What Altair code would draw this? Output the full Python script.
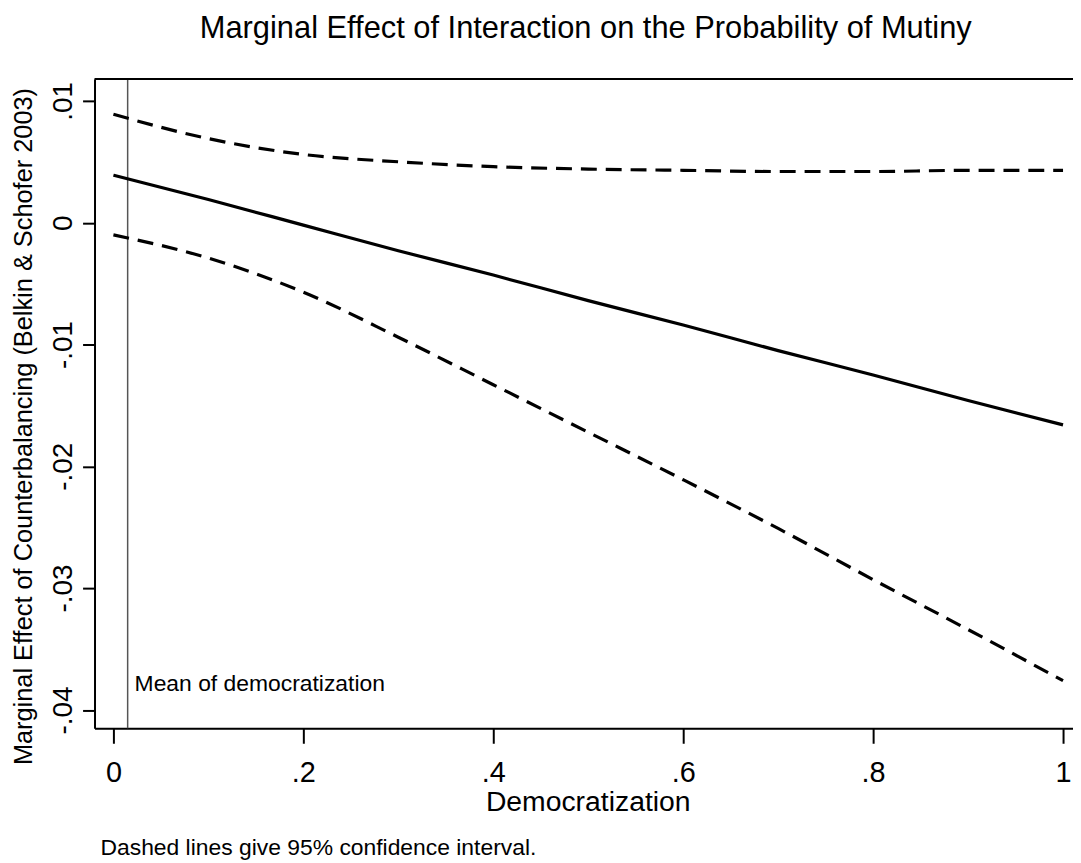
import altair as alt
import pandas as pd

# Values
democratization = [0.0, 0.1, 0.2, 0.3, 0.4, 0.5, 0.6, 0.7, 0.8, 0.9, 1.0]
marginal_effect = [0.0039, 0.0019, -0.0002, -0.0023, -0.0043, -0.0064,
                   -0.0084, -0.0105, -0.0125, -0.0146, -0.0166]
upper_ci = [0.0089, 0.0069, 0.0056, 0.0050, 0.0046, 0.0044,
            0.0043, 0.0042, 0.0042, 0.0043, 0.0043]
lower_ci = [-0.0010, -0.0029, -0.0057, -0.0094, -0.0133, -0.0172,
            -0.0211, -0.0251, -0.0293, -0.0334, -0.0376]
mean_democratization = [0.015]

x_ticks = [0, 0.2, 0.4, 0.6, 0.8, 1]
y_ticks = [-0.04, -0.03, -0.02, -0.01, 0, 0.01]

chart_title = "Marginal Effect of Interaction on the Probability of Mutiny"
footnote_text = "Dashed lines give 95% confidence interval."

W, H = 984, 653
FONT = "Liberation Sans"

df = pd.DataFrame({
    "Democratization": democratization,
    "effect": marginal_effect,
    "upper": upper_ci,
    "lower": lower_ci,
})
mean_df = pd.DataFrame({"mean": mean_democratization,
                        "label": ["Mean of democratization"]})

x_scale = alt.Scale(domain=[-0.0199, 1.0105], nice=False, zero=False)
y_scale = alt.Scale(domain=[-0.04151, 0.011796], nice=False, zero=False)

x_axis = alt.Axis(
    values=x_ticks,
    labelExpr="replace(format(datum.value, '~g'), '0.', '.')",
    title="Democratization",
    titleFontSize=28.5, titleFont=FONT, titleFontWeight="normal", titleColor="black",
    titleBaseline="alphabetic", titleY=83, titleX=496, titleAlign="center",
    labelFontSize=29, labelFont=FONT, labelColor="black",
    labelBaseline="alphabetic", labelPadding=38, labelFlush=False,
    tickSize=15, tickWidth=2, tickColor="black",
    domainWidth=2, domainColor="black", grid=False,
)
y_axis = alt.Axis(
    values=y_ticks,
    labelExpr="replace(replace(format(datum.value, '.2~f'), '0.', '.'), '\u2212', '-')",
    title="Marginal Effect of Counterbalancing (Belkin & Schofer 2003)",
    titleFontSize=25.5, titleFont=FONT, titleFontWeight="normal", titleColor="black",
    titleAngle=270, titleBaseline="alphabetic", titleAlign="center",
    titleX=-63, titleY=349,
    labelFontSize=28, labelFont=FONT, labelColor="black",
    labelAngle=270, labelAlign="center", labelBaseline="alphabetic",
    labelPadding=11, labelFlush=False,
    tickSize=12, tickWidth=2, tickColor="black",
    domainWidth=2, domainColor="black", grid=False,
)

base = alt.Chart(df)

main_line = base.mark_line(color="black", strokeWidth=3.2, interpolate="monotone").encode(
    x=alt.X("Democratization:Q", scale=x_scale, axis=x_axis),
    y=alt.Y("effect:Q", scale=y_scale, axis=y_axis),
)
upper_line = base.mark_line(color="black", strokeWidth=3.2, strokeDash=[16, 9],
                            interpolate="monotone").encode(
    x=alt.X("Democratization:Q", scale=x_scale),
    y=alt.Y("upper:Q", scale=y_scale),
)
lower_line = base.mark_line(color="black", strokeWidth=3.2, strokeDash=[16, 9],
                            interpolate="monotone").encode(
    x=alt.X("Democratization:Q", scale=x_scale),
    y=alt.Y("lower:Q", scale=y_scale),
)

mean_rule = alt.Chart(mean_df).mark_rule(color="#555555", strokeWidth=1.5).encode(
    x=alt.X("mean:Q", scale=x_scale),
)
mean_text = alt.Chart(mean_df).mark_text(
    align="left", baseline="alphabetic", font=FONT, fontSize=23, color="black", dx=7
).encode(
    x=alt.X("mean:Q", scale=x_scale),
    y=alt.value(615),
    text="label:N",
)

top_frame = alt.Chart(mean_df).mark_rule(color="black", strokeWidth=2).encode(
    x=alt.value(0), x2=alt.value(W), y=alt.value(0)
)

foot_df = pd.DataFrame({"note": [footnote_text]})
footnote = alt.Chart(foot_df).mark_text(
    align="left", baseline="alphabetic", font=FONT, fontSize=23, color="black"
).encode(
    x=alt.value(6), y=alt.value(780), text="note:N"
)

title_df = pd.DataFrame({"title": [chart_title]})
title_text = alt.Chart(title_df).mark_text(
    align="center", baseline="alphabetic",
    font="Liberation Sans Narrow, Liberation Sans, Arial", fontSize=31, color="black"
).encode(
    x=alt.value(494), y=alt.value(-41), text="title:N"
)

chart = alt.layer(
    mean_rule, upper_line, lower_line, main_line, mean_text, top_frame, footnote,
    title_text
).properties(
    width=W, height=H,
    autosize=alt.AutoSizeParams(type="none"),
    padding={"left": 87, "top": 69, "right": 0, "bottom": 130},
).configure_view(stroke=None).configure(background="white")

chart.save("out.html", embed_options={"renderer": "svg", "actions": False})
